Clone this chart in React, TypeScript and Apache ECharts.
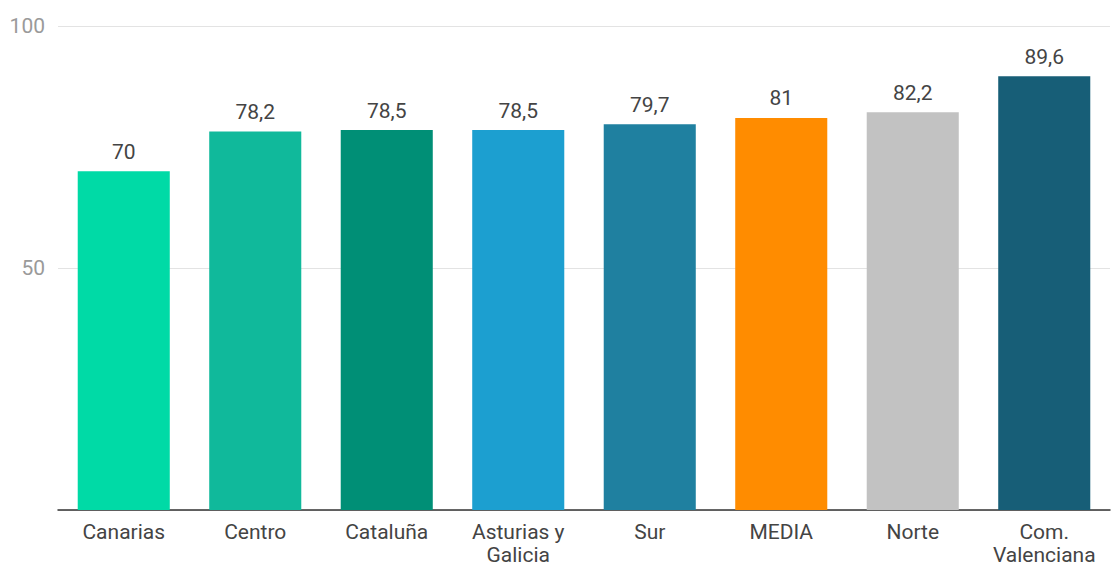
import React, { useEffect, useRef } from "react";
import * as echarts from "echarts";

const categories = ["Canarias", "Centro", "Cataluña", "Asturias y\nGalicia", "Sur", "MEDIA", "Norte", "Com.\nValenciana"];
const values = [70, 78.2, 78.5, 78.5, 79.7, 81, 82.2, 89.6];
const colors = ["#00DAA6", "#10B99B", "#008F76", "#1C9FD0", "#1F80A0", "#FF8C00", "#C2C2C2", "#175E77"];
const yTicks = [0, 50, 100];

export default function App() {
  const ref = useRef<HTMLDivElement>(null);
  useEffect(() => {
    const chart = echarts.init(ref.current!, undefined, { renderer: "svg" });
    chart.setOption({
      animation: false,
      grid: { left: 58, right: 3, top: 26, bottom: 55, containLabel: false },
      xAxis: {
        type: "category",
        data: categories,
        axisLine: { show: true, lineStyle: { color: "#333", width: 1.5 } },
        axisTick: { show: false },
        axisLabel: {
          color: "#444",
          fontFamily: "Roboto",
          fontSize: 21,
          margin: 10,
          lineHeight: 23,
          interval: 0,
        },
      },
      yAxis: {
        type: "value",
        min: yTicks[0],
        max: yTicks[yTicks.length - 1],
        interval: 50,
        axisLine: { show: false },
        axisTick: { show: false },
        splitLine: { lineStyle: { color: "#e3e3e3" } },
        axisLabel: {
          color: "#9a9a9a",
          fontFamily: "Roboto",
          fontSize: 21,
          margin: 13,
          showMinLabel: false,
        },
      },
      series: [
        {
          type: "bar",
          barWidth: "70%",
          data: values.map((v, i) => ({ value: v, itemStyle: { color: colors[i] } })),
          label: {
            show: true,
            position: "top",
            distance: 9,
            color: "#444",
            fontFamily: "Roboto",
            fontSize: 21,
            formatter: (p: any) => String(p.value).replace(".", ","),
          },
        },
      ],
    });
    return () => chart.dispose();
  }, []);
  return (
    <div
      ref={ref}
      style={{ position: "fixed", left: 0, top: 0, width: 1113, height: 566, background: "#fff" }}
    />
  );
}
